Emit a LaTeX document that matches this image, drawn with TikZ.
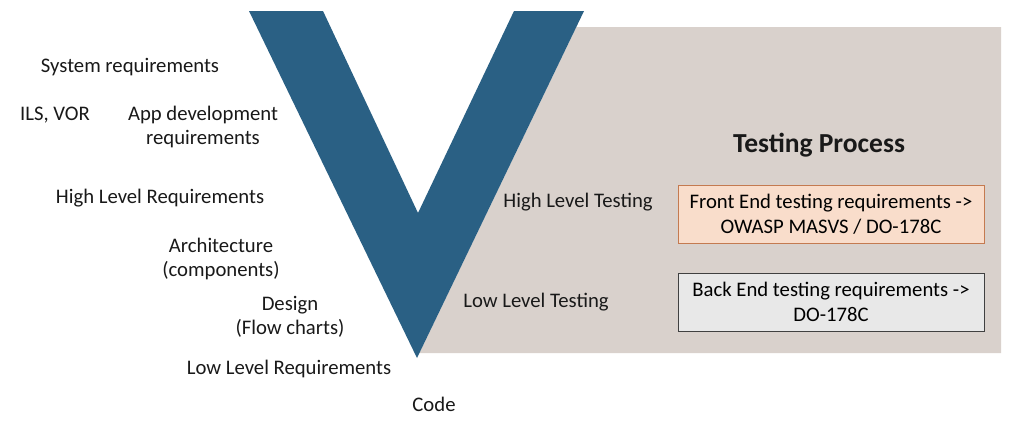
\documentclass[tikz,border=0pt]{standalone}
\usepackage{fontspec}
\setmainfont{Carlito}
\definecolor{vblue}{RGB}{42,96,132}
\definecolor{vgrey}{RGB}{217,209,204}
\definecolor{fefill}{RGB}{249,221,203}
\definecolor{feedge}{RGB}{196,122,80}
\definecolor{befill}{RGB}{232,232,232}
\definecolor{beedge}{RGB}{64,64,64}
\begin{document}
\begin{tikzpicture}[x=1pt,y=-1pt,
  lbl/.style={inner sep=0pt,align=center,font=\fontsize{20.7}{24.5}\selectfont,text=black!90},
  reqbox/.style={draw,line width=1pt,minimum width=306pt,minimum height=58pt,align=center,inner sep=0pt,font=\fontsize{20.7}{24.5}\selectfont}]
\useasboundingbox (0,0) rectangle (1024,423);
\fill[white] (0,0) rectangle (1024,423);
% grey panel
\fill[vgrey] (576.3,27) -- (1001,27) -- (1001,353) -- (419.4,353) -- cycle;
% V shape
\fill[vblue] (249,11) -- (323,11) -- (418,213) -- (514,11) -- (584,11) -- (417,358) -- cycle;
% left labels
\node[lbl] (sysreq) at (130,67) {System requirements};
\node[lbl] (ils) at (55,115) {ILS, VOR};
\node[lbl] (appdev) at (203,127) {App development\\requirements};
\node[lbl] (hlr) at (160,198) {High Level Requirements};
\node[lbl] (arch) at (221,259) {Architecture\\(components)};
\node[lbl] (design) at (290,317) {Design\\(Flow charts)};
\node[lbl] (llr) at (289,369) {Low Level Requirements};
\node[lbl] (code) at (434,404) {Code};
% right labels
\node[lbl,font=\fontsize{27.5}{30}\selectfont\bfseries] (tp) at (819,145) {Testing Process};
\node[lbl] (hlt) at (578,202) {High Level Testing};
\node[lbl] (llt) at (536,302) {Low Level Testing};
\node[reqbox,draw=feedge,fill=fefill] (fe) at (831,214) {Front End testing requirements ->\\OWASP MASVS / DO-178C};
\node[reqbox,draw=beedge,fill=befill] (be) at (831,302) {Back End testing requirements ->\\DO-178C};
\end{tikzpicture}
\end{document}
